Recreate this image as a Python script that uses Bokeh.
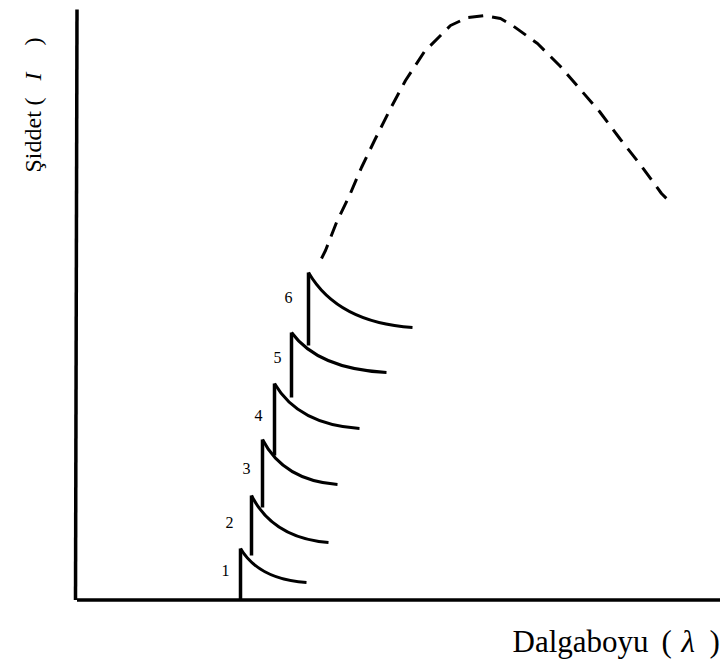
import numpy as np
from bokeh.plotting import figure
from bokeh.models import Range1d
from bokeh.core.properties import value
from bokeh.embed import file_html
from bokeh.resources import INLINE

# Absorption edges: wavelength of each edge, intensity at its foot and at its peak
edge_labels = ["1", "2", "3", "4", "5", "6"]
edge_wavelength = [240, 251, 262, 274, 291, 308]
edge_foot = [64.5, 109, 157, 209, 267, 319]
edge_peak = [116, 169, 225, 281, 332, 392]
# Where each decaying tail ends
tail_wavelength = [306, 328, 337, 359, 386, 412]
tail_intensity = [82, 122, 180, 236, 292, 337]
# Label anchor of each edge number
label_wavelength = [225, 229, 246, 258, 277, 288]
label_intensity = [94, 142, 196, 249, 307, 367]

# Envelope (dashed) curve
env_wavelength = [321, 325, 336, 349, 361, 374, 389, 405, 424, 450, 467, 484,
                  500, 512, 537, 560, 579, 599, 620, 642, 661, 667]
env_intensity = [406, 414, 442, 469, 497, 524, 554, 584, 613, 639, 647, 649,
                 646, 639, 621, 598, 576, 553, 525, 497, 471, 465]

# Axis extents
axis_origin = (76.5, 64.5)
axis_x_end = 720
axis_y_end = 655

W, H = 720, 664
p = figure(width=W, height=H, output_backend="svg", toolbar_location=None,
           x_range=Range1d(0, W), y_range=Range1d(0, H), min_border=0,
           outline_line_color=None, background_fill_color="white",
           border_fill_color="white")
p.xaxis.visible = False
p.yaxis.visible = False
p.xgrid.visible = False
p.ygrid.visible = False

# Axes
ox, oy = axis_origin
p.segment(x0=[ox, ox - 1.5], y0=[oy, oy], x1=[axis_x_end, ox], y1=[oy, axis_y_end],
          line_color="black", line_width=3.5, line_cap="butt")

# Vertical edges
p.segment(x0=edge_wavelength, y0=edge_foot, x1=edge_wavelength, y1=edge_peak,
          line_color="black", line_width=3.5)

# Decaying tails after each edge
kx, ky = 0.28, 0.91
cx = [x0 + kx * (x1 - x0) for x0, x1 in zip(edge_wavelength, tail_wavelength)]
cy = [y0 + ky * (y1 - y0) for y0, y1 in zip(edge_peak, tail_intensity)]
p.quadratic(x0=edge_wavelength, y0=edge_peak, x1=tail_wavelength, y1=tail_intensity,
            cx=cx, cy=cy, line_color="black", line_width=3)

serif = value("Liberation Serif")

# Edge numbers
p.text(x=label_wavelength, y=label_intensity, text=edge_labels,
       text_font=serif, text_font_size="16px",
       text_align="center", text_baseline="middle", text_color="black")

# Envelope curve
p.line(env_wavelength, env_intensity, line_color="black", line_width=3,
       line_dash="15 9", line_join="round")

# Y axis title, rotated
p.text(x=[32, 32, 32], y=[492, 559, 619], text=["Şiddet", "(", ")"], angle=np.pi / 2,
       text_font=serif, text_font_size="24px", text_align="left",
       text_baseline="middle", text_color="black")
p.text(x=[32], y=[584], text=["I"], angle=np.pi / 2, text_font=serif,
       text_font_style="italic", text_font_size="24px", text_align="left",
       text_baseline="middle", text_color="black")

# X axis title
p.text(x=[512, 661, 709], y=[23, 23, 23], text=["Dalgaboyu", "(", ")"],
       text_font=serif, text_font_size="31px", text_align="left",
       text_baseline="middle", text_color="black")
p.text(x=[681], y=[23], text=["λ"], text_font=serif, text_font_style="italic",
       text_font_size="31px", text_align="left", text_baseline="middle",
       text_color="black")

open("out.html", "w").write(file_html(p, INLINE))
